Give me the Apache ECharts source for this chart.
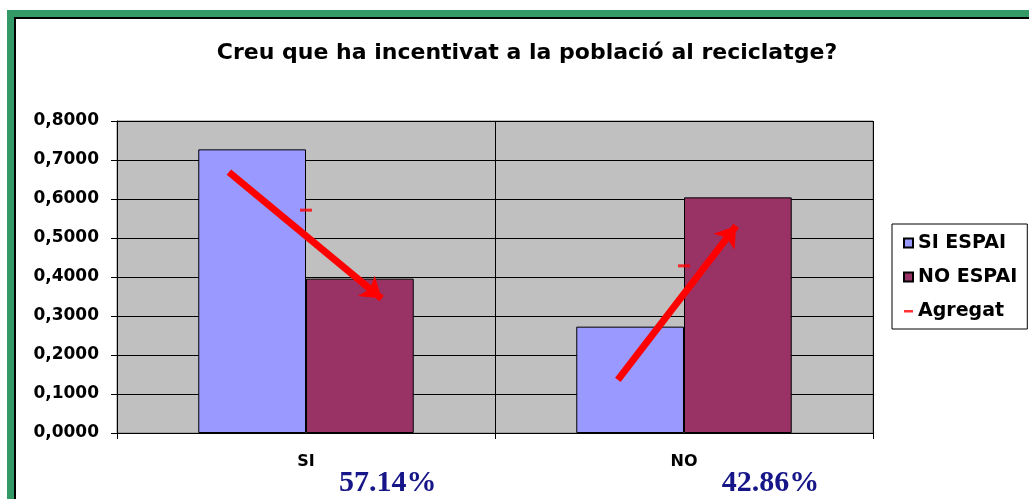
<!DOCTYPE html>
<html>
<head>
<meta charset="utf-8">
<title>Creu que ha incentivat a la població al reciclatge?</title>
<script src="https://cdn.jsdelivr.net/npm/echarts@6/dist/echarts.min.js"></script>
<style>
html, body { margin: 0; padding: 0; background: #fff; }
#chart { width: 1029px; height: 499px; }
</style>
</head>
<body>
<div id="chart"></div>
<script>
// dades
const categories = ["SI", "NO"]
const siEspai = [0.7273, 0.2727]
const noEspai = [0.3958, 0.6042]
const agregat = [0.5714, 0.4286]

// fletxes dibuixades a sobre (x = index de categoria, y = valor)
const fletxaSI = [[-0.204, 0.669], [0.2, 0.345]]
const fletxaNO = [[0.825, 0.136], [1.138, 0.531]]

const font = "DejaVu Sans"

let myChart = echarts.init(document.getElementById("chart"))

let option = {
	animation: false,
	backgroundColor: "#fff",
	title: {
		text: "Creu que ha incentivat a la població al reciclatge?",
		left: 522,
		top: 37,
		textAlign: "center",
		textStyle: { fontFamily: font, fontWeight: "bold", fontSize: 22, color: "#000" },
	},
	legend: {
		orient: "vertical",
		left: 892,
		top: 224,
		padding: [8, 10, 7, 11],
		itemGap: 12,
		itemWidth: 9,
		itemHeight: 9,
		borderColor: "#000",
		borderWidth: 1,
		selectedMode: false,
		textStyle: { fontFamily: font, fontWeight: "bold", fontSize: 19, color: "#000", lineHeight: 22 },
		data: [
			{ name: "SI ESPAI", icon: "rect" },
			{ name: "NO ESPAI", icon: "rect" },
			// guió vermell dins d'una caixa de 9x9
			{ name: "Agregat", icon: "path://M0,0h0.01v0.01H0zM0,3.5h9v2.5H0zM8.99,8.99H9V9h-0.01z" },
		],
	},
	grid: {
		left: 117,
		top: 121,
		right: 156,
		bottom: 66,
		containLabel: false,
		outerBoundsMode: "none",
		show: true,
		backgroundColor: "#c0c0c0",
		borderColor: "#808080",
		borderWidth: 1,
	},
	xAxis: [
		{
			type: "category",
			data: categories,
			axisLine: { onZero: false, lineStyle: { color: "#000" } },
			axisTick: { show: true, length: 6, lineStyle: { color: "#000" } },
			splitLine: { show: true, lineStyle: { color: "#000" } },
			axisLabel: {
				margin: 21,
				formatter: (val, idx) => "{sp|}{a|" + val + "}{b|" + (agregat[idx] * 100).toFixed(2) + "%}",
				rich: {
					sp: { width: 128 },
					a: { fontFamily: font, fontWeight: "bold", fontSize: 16, color: "#000", lineHeight: 18, verticalAlign: "top" },
					b: {
						fontFamily: "Liberation Serif",
						fontWeight: "bold",
						fontSize: 30,
						color: "#161688",
						width: 110,
						align: "left",
						padding: [0, 0, 0, 18],
						lineHeight: 44,
						verticalAlign: "bottom",
					},
				},
			},
		},
		{
			type: "value",
			min: -0.5,
			max: 1.5,
			show: false,
			splitLine: { show: false },
			axisLine: { show: false },
			axisTick: { show: false },
			axisLabel: { show: false },
		},
	],
	yAxis: {
		type: "value",
		min: 0,
		max: 0.8,
		interval: 0.1,
		axisLine: { show: true, onZero: false, lineStyle: { color: "#000" } },
		axisTick: { show: true, length: 6, lineStyle: { color: "#000" } },
		splitLine: { lineStyle: { color: "#000" } },
		axisLabel: {
			margin: 18,
			fontFamily: font,
			fontWeight: "bold",
			fontSize: 17,
			color: "#000",
			formatter: (v) => v.toFixed(4).replace(".", ","),
		},
	},
	series: [
		{
			name: "SI ESPAI",
			type: "bar",
			data: siEspai,
			barGap: "0%",
			barCategoryGap: "43%",
			itemStyle: { color: "#9999ff", borderColor: "#000", borderWidth: 1 },
		},
		{
			name: "NO ESPAI",
			type: "bar",
			data: noEspai,
			itemStyle: { color: "#993366", borderColor: "#000", borderWidth: 1 },
		},
		{
			name: "Agregat",
			type: "scatter",
			data: agregat,
			symbol: "rect",
			symbolSize: [12, 3],
			itemStyle: { color: "#ff0000" },
			z: 5,
		},
		{
			type: "lines",
			coordinateSystem: "cartesian2d",
			xAxisIndex: 1,
			yAxisIndex: 0,
			silent: true,
			symbol: ["none", "arrow"],
			symbolSize: 20,
			lineStyle: { color: "#ff0000", width: 7, opacity: 1, curveness: 0 },
			data: [{ coords: fletxaSI }, { coords: fletxaNO }],
			z: 6,
		},
	],
	graphic: [
		// marc verd amb línia negra interior
		{ type: "rect", shape: { x: 10.5, y: 13.5, width: 1100, height: 600 }, style: { fill: "none", stroke: "#339966", lineWidth: 7 }, z: 100 },
		{ type: "rect", shape: { x: 15, y: 18, width: 1100, height: 600 }, style: { fill: "none", stroke: "#000", lineWidth: 2 }, z: 100 },
	],
}

myChart.setOption(option)
</script>
</body>
</html>
